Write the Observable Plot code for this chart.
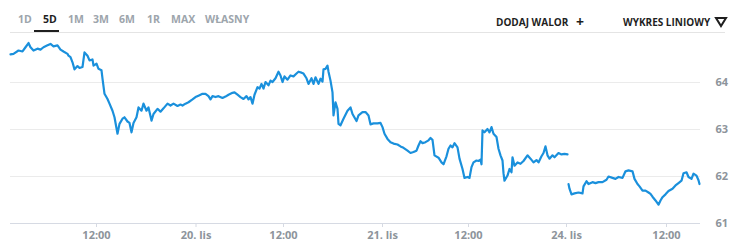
<!DOCTYPE html>
<html><head><meta charset="utf-8">
<script src="https://cdn.jsdelivr.net/npm/d3@7"></script>
<script src="https://cdn.jsdelivr.net/npm/@observablehq/plot@0.6"></script>
<style>
html,body{margin:0;padding:0;background:#fff;}
#wrap{position:relative;width:747px;height:252px;font-family:"Open Sans",sans-serif;}
.tab{position:absolute;top:12px;font-size:10.5px;font-weight:700;color:#9da5ac;line-height:14px;}
.tab.on{color:#1f1f1f;}
.rt{position:absolute;top:15px;font-size:10px;font-weight:700;color:#1f1f1f;line-height:14px;}
#sep{position:absolute;left:10px;top:32px;width:715px;height:1px;background:#e4e4e4;}
#ul{position:absolute;left:34px;top:30px;width:25px;height:2px;background:#1f1f1f;}
#chart{position:absolute;left:0;top:0;}
</style></head>
<body><div id="wrap">
<div id="chart"></div>
<div id="sep"></div><div id="ul"></div>
<span class="tab" style="left:18px">1D</span>
<span class="tab on" style="left:43px">5D</span>
<span class="tab" style="left:68px">1M</span>
<span class="tab" style="left:93px">3M</span>
<span class="tab" style="left:119px">6M</span>
<span class="tab" style="left:147px">1R</span>
<span class="tab" style="left:171px">MAX</span>
<span class="tab" style="left:205px">WŁASNY</span>
<span class="rt" style="left:496px">DODAJ WALOR</span>
<span class="rt" style="left:576px;top:15px;font-size:14px;">+</span>
<span class="rt" style="left:623px">WYKRES LINIOWY</span>
<svg style="position:absolute;left:714px;top:16px" width="14" height="12"><polygon points="2,2 12,2 7,10" fill="none" stroke="#1f1f1f" stroke-width="2" stroke-linejoin="miter"/></svg>
</div>
<script>
// sample index (trading-time position) and price, session 1 (19–21 lis)
const seg1Idx = [0,3,8,12,15,18,20,23,27,30,33,37,40,43,47,50,53,57,58,60,62,64,67,69,72,74,77,79,82,83,86,88,91,92,94,97,99,102,104,107,109,112,114,117,119,121,123,126,128,131,133,136,138,141,143,147,150,153,157,160,163,167,170,172,175,178,182,185,188,192,195,198,200,202,205,208,212,215,218,222,224,227,230,233,236,238,240,242,244,247,249,251,253,255,258,260,262,265,268,270,272,274,277,280,283,286,288,291,293,296,298,301,303,305,308,310,312,313,315,317,318,320,322,323,325,327,328,330,333,337,340,342,346,348,352,355,358,360,363,367,370,372,374,377,380,383,387,390,393,397,400,403,406,408,410,412,415,418,420,422,424,428,431,433,436,438,440,442,444,447,449,452,454,457,459,461,463,466,468,470,471,472,474,477,479,481,483,486,488,490,492,493,494,497,499,501,502,504,507,510,513,517,520,523,526,528,531,533,535,537,539,542,544,548,551,554,557];
const seg1Val = [64.60,64.61,64.68,64.66,64.75,64.84,64.75,64.68,64.72,64.70,64.75,64.79,64.82,64.77,64.79,64.70,64.66,64.61,64.57,64.54,64.43,64.28,64.35,64.31,64.33,64.64,64.57,64.47,64.49,64.36,64.40,64.29,64.26,64.08,63.76,63.65,63.55,63.40,63.26,62.91,63.12,63.23,63.26,63.17,63.14,62.94,63.14,63.26,63.47,63.40,63.55,63.40,63.47,63.19,63.33,63.44,63.38,63.45,63.55,63.51,63.55,63.50,63.53,63.51,63.55,63.58,63.64,63.69,63.72,63.76,63.76,63.71,63.64,63.71,63.69,63.71,63.67,63.70,63.74,63.78,63.79,63.74,63.69,63.65,63.71,63.64,63.69,63.55,63.74,63.90,63.87,63.97,63.87,64.01,63.94,64.04,64.01,64.09,64.23,64.15,64.01,64.13,64.06,64.15,64.13,64.19,64.23,64.21,64.19,64.09,63.97,64.09,63.97,64.11,63.97,64.08,64.02,64.28,64.29,64.36,64.23,64.04,63.79,63.30,63.58,63.44,63.12,63.09,63.23,63.40,63.47,63.33,63.18,63.30,63.37,63.37,63.30,63.11,63.13,63.13,63.14,63.05,62.91,62.80,62.73,62.70,62.68,62.64,62.61,62.55,62.50,62.52,62.55,62.66,62.75,62.71,62.73,62.77,62.82,62.78,62.45,62.40,62.30,62.26,62.43,62.59,62.66,62.62,62.71,62.62,62.38,62.16,61.97,61.99,61.97,62.20,62.30,62.34,62.33,62.36,62.26,62.98,62.94,63.01,62.94,63.05,62.91,62.84,62.59,62.45,62.34,62.07,61.91,62.02,62.16,62.09,62.41,62.23,62.30,62.27,62.33,62.45,62.38,62.30,62.35,62.30,62.43,62.50,62.64,62.45,62.38,62.45,62.41,62.50,62.47,62.48,62.47];
// session 2 (24–25 lis)
const seg2Idx = [558,559,561,564,568,572,573,576,578,582,585,588,592,596,598,602,605,608,612,615,618,622,624,627,629,632,635,638,640,642,645,648,650,652,655,658,662,665,668,671,673,676,678,681,683,686,688,689];
const seg2Val = [61.84,61.74,61.62,61.64,61.66,61.64,61.79,61.90,61.84,61.88,61.86,61.88,61.88,61.93,62.00,61.97,61.95,61.99,61.97,62.11,62.13,62.11,61.95,61.84,61.79,61.70,61.70,61.66,61.63,61.57,61.49,61.40,61.49,61.56,61.62,61.69,61.74,61.81,61.86,61.91,62.07,62.09,61.99,61.95,62.06,62.02,61.92,61.84];
const tickIdx = [86,185.5,273,372,458,556,656];
const tickLabels = ["12:00","20. lis","12:00","21. lis","12:00","24. lis","12:00"];
const yTicks = [61,62,63,64];

const s1 = seg1Idx.map((x,i)=>({x, y: seg1Val[i]}));
const s2 = seg2Idx.map((x,i)=>({x, y: seg2Val[i]}));
const labelOf = new Map(tickIdx.map((d,i)=>[d, tickLabels[i]]));

const plot = Plot.plot({
  width: 747, height: 252,
  marginTop: 35, marginBottom: 29, marginLeft: 10, marginRight: 47,
  style: {fontFamily: "Open Sans", fontSize: "11px", background: "transparent"},
  x: {domain: [0, 690]},
  y: {domain: [61, 65]},
  marks: [
    Plot.ruleY([62,63,64], {stroke: "#ebebeb", strokeWidth: 1}),
    Plot.ruleY([61], {stroke: "#d6dae3", strokeWidth: 1.2}),
    Plot.axisX({ticks: tickIdx, tickFormat: d => labelOf.get(d), tickSize: 4, tickPadding: 4, stroke: "#d6dae3", fill: "#8d949b", fontWeight: "bold", label: null}),
    Plot.axisY({anchor: "right", ticks: yTicks, tickFormat: d => String(d), tickSize: 0, tickPadding: 15, fill: "#8d949b", fontWeight: "bold", label: null}),
    Plot.line(s1, {x: "x", y: "y", stroke: "#1a90dc", strokeWidth: 2.2, curve: "linear"}),
    Plot.line(s2, {x: "x", y: "y", stroke: "#1a90dc", strokeWidth: 2.2, curve: "linear"})
  ]
});
document.getElementById("chart").appendChild(plot);
</script>
</body></html>
